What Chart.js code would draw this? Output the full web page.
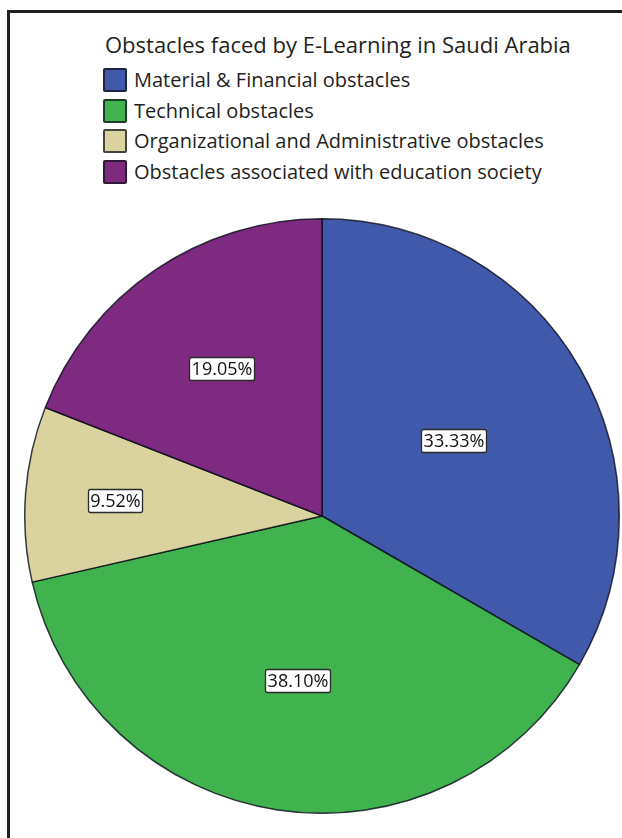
<!DOCTYPE html>
<html>
<head>
<meta charset="utf-8">
<script src="https://cdn.jsdelivr.net/npm/chart.js@4.4.0/dist/chart.umd.min.js"></script>
<style>
  html, body { margin: 0; padding: 0; background: #fff; }
  body { width: 622px; height: 838px; position: relative; overflow: hidden; font-family: "Open Sans", sans-serif; color: #231f20; }
  #frame { position: absolute; left: 7px; top: 10px; right: -4px; bottom: -4px; border-left: 3px solid #231f20; border-top: 3px solid #231f20; }
  #title { position: absolute; left: 105px; top: 33px; font-size: 22px; line-height: 22px; white-space: nowrap; }
  #legend { position: absolute; left: 103px; top: 68px; }
  .item { display: flex; align-items: center; height: 24px; margin-bottom: 6.5px; }
  .swatch { width: 20px; height: 20px; border: 2px solid rgba(20,20,30,0.75); border-radius: 2px; }
  .item span { margin-left: 7px; font-size: 20px; line-height: 20px; white-space: nowrap; }
  #pie { position: absolute; left: 24px; top: 218px; }
</style>
</head>
<body>
<div id="frame"></div>
<div id="title">Obstacles faced by E-Learning in Saudi Arabia</div>
<div id="legend"></div>
<canvas id="pie" width="596" height="596"></canvas>
<script>
const categories = [
  'Material & Financial obstacles',
  'Technical obstacles',
  'Organizational and Administrative obstacles',
  'Obstacles associated with education society'
];
const shares = [33.33, 38.10, 9.52, 19.05];
const sliceColors = ['#4159ab', '#40b34f', '#dad39f', '#7f2a81'];
// how far out (fraction of radius) each percentage box sits
const labelRadius = [0.51, 0.56, 0.70, 0.60];

// legend built from the same arrays as the pie
const legend = document.getElementById('legend');
categories.forEach((name, i) => {
  const row = document.createElement('div');
  row.className = 'item';
  const sw = document.createElement('div');
  sw.className = 'swatch';
  sw.style.background = sliceColors[i];
  const txt = document.createElement('span');
  txt.textContent = name;
  row.appendChild(sw);
  row.appendChild(txt);
  legend.appendChild(row);
});

// white boxed percentage labels inside each slice
const boxLabels = {
  id: 'boxLabels',
  afterDatasetsDraw(chart) {
    const ctx = chart.ctx;
    const meta = chart.getDatasetMeta(0);
    ctx.save();
    ctx.font = '18px "Open Sans"';
    ctx.textAlign = 'center';
    ctx.textBaseline = 'middle';
    meta.data.forEach((arc, i) => {
      const p = arc.getProps(['x', 'y', 'startAngle', 'endAngle', 'outerRadius'], true);
      const mid = (p.startAngle + p.endAngle) / 2;
      const r = p.outerRadius * labelRadius[i];
      const cx = p.x + Math.cos(mid) * r;
      const cy = p.y + Math.sin(mid) * r;
      const text = shares[i].toFixed(2) + '%';
      const w = Math.round(ctx.measureText(text).width + 4);
      const h = 23;
      const x0 = Math.round(cx - w / 2) + 0.5;
      const y0 = Math.round(cy - h / 2) + 0.5;
      ctx.beginPath();
      ctx.roundRect(x0, y0, w, h, 2);
      ctx.fillStyle = '#fff';
      ctx.fill();
      ctx.lineWidth = 1.3;
      ctx.strokeStyle = '#2a2a2a';
      ctx.stroke();
      ctx.fillStyle = '#111';
      ctx.fillText(text, x0 + w / 2, y0 + h / 2 + 1);
    });
    ctx.restore();
  }
};

new Chart(document.getElementById('pie'), {
  type: 'pie',
  data: {
    labels: categories,
    datasets: [{
      data: shares,
      backgroundColor: sliceColors,
      borderColor: 'rgba(10,12,25,0.8)',
      borderWidth: 1.5
    }]
  },
  options: {
    responsive: false,
    animation: false,
    layout: { padding: 0 },
    plugins: {
      legend: { display: false },
      tooltip: { enabled: false }
    }
  },
  plugins: [boxLabels]
});
</script>
</body>
</html>
